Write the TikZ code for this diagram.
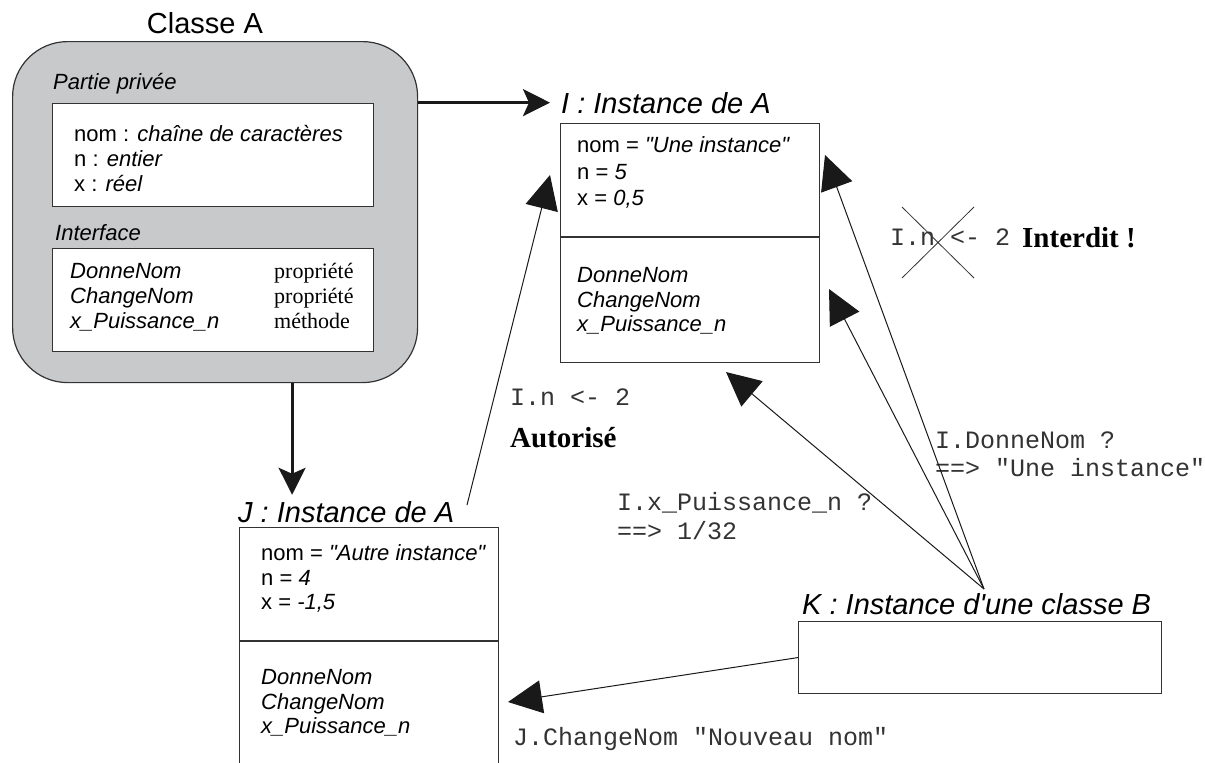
\documentclass[tikz,border=0pt]{standalone}
\usepackage{fontspec}
\setmainfont{Liberation Serif}
\setsansfont{Liberation Sans}[Ligatures=TeXOff]
\setmonofont{Liberation Mono}
\usetikzlibrary{arrows.meta}

\definecolor{classgray}{HTML}{C8C9CB}
\definecolor{edgegray}{HTML}{333333}

\tikzset{
  classbox/.style={draw=edgegray,line width=1.2pt,fill=classgray,rounded corners=55pt,
    anchor=north west,inner sep=0pt,minimum width=405pt,minimum height=341pt},
  membox/.style={draw=edgegray,line width=1.1pt,fill=white,anchor=north west,inner sep=0pt},
  objname/.style={anchor=base west,inner sep=0pt,font=\sffamily\itshape\fontsize{29}{29}\selectfont},
  txt/.style={anchor=base west,inner sep=0pt,font=\sffamily\fontsize{22}{22}\selectfont},
  kind/.style={anchor=base west,inner sep=0pt,font=\rmfamily\fontsize{22}{22}\selectfont},
  code/.style={anchor=base west,inner sep=0pt,text=black!80,font=\ttfamily\fontsize{25}{25}\selectfont},
  verdict/.style={anchor=base west,inner sep=0pt,font=\rmfamily\bfseries\fontsize{29}{29}\selectfont},
  bigarrow/.style={draw=black!90,line width=3pt,-{Stealth[length=27pt,width=27pt,inset=6pt]}},
  call/.style={draw=black!90,line width=1pt,-{Triangle[length=34pt,width=33pt]}}
}

\begin{document}
\begin{tikzpicture}[x=1pt,y=-1pt]
\useasboundingbox (0,0) rectangle (1205,763);

% classe A
\node[classbox] (classA) at (12,41) {};
\node[anchor=base,inner sep=0pt,font=\sffamily\fontsize{29}{29}\selectfont] (classAname) at (205,33) {Classe A};
\node[txt,font=\sffamily\itshape\fontsize{22}{22}\selectfont] (privLbl) at (53,89) {Partie privée};
\node[membox,minimum width=321pt,minimum height=103pt] (privBox) at (52,103) {};
\node[txt] (aNom) at (74,141) {nom : \textit{chaîne de caractères}};
\node[txt] (aN) at (74,166) {n : \textit{entier}};
\node[txt] (aX) at (74,191) {x : \textit{réel}};
\node[txt,font=\sffamily\itshape\fontsize{22}{22}\selectfont] (ifLbl) at (55,240) {Interface};
\node[membox,minimum width=321pt,minimum height=103pt] (ifBox) at (52,248) {};
\node[txt] (aM1) at (70,278) {\textit{DonneNom}};
\node[txt] (aM2) at (70,303) {\textit{ChangeNom}};
\node[txt] (aM3) at (70,328) {\textit{x\_Puissance\_n}};
\node[kind] (aK1) at (274,278) {propriété};
\node[kind] (aK2) at (274,303) {propriété};
\node[kind] (aK3) at (274,328) {méthode};

% instance I
\node[objname] (Iname) at (561,113) {I : Instance de A};
\node[membox,minimum width=259pt,minimum height=239pt] (Ibox) at (560,123) {};
\draw[edgegray,line width=1.1pt] (Ibox.west |- 0,237) -- (Ibox.east |- 0,237);
\node[txt] (iNom) at (577,152) {nom = \textit{"Une instance"}};
\node[txt] (iN) at (577,179) {n = \textit{5}};
\node[txt] (iX) at (577,205) {x = \textit{0,5}};
\node[txt] (iM1) at (577,282) {\textit{DonneNom}};
\node[txt] (iM2) at (577,307) {\textit{ChangeNom}};
\node[txt] (iM3) at (577,331) {\textit{x\_Puissance\_n}};

% instance J
\node[objname] (Jname) at (238,522) {J : Instance de A};
\node[membox,minimum width=259pt,minimum height=250pt] (Jbox) at (239,527) {};
\draw[edgegray,line width=1.1pt] (Jbox.west |- 0,641) -- (Jbox.east |- 0,641);
\node[txt] (jNom) at (261,560) {nom = \textit{"Autre instance"}};
\node[txt] (jN) at (261,585) {n = \textit{4}};
\node[txt] (jX) at (261,609) {x = \textit{-1,5}};
\node[txt] (jM1) at (261,684) {\textit{DonneNom}};
\node[txt] (jM2) at (261,709) {\textit{ChangeNom}};
\node[txt] (jM3) at (261,733) {\textit{x\_Puissance\_n}};

% instance K
\node[objname] (Kname) at (802,614) {K : Instance d\textquotesingle une classe B};
\node[membox,minimum width=363pt,minimum height=72pt] (Kbox) at (798,621) {};

% messages
\node[code] (setOk) at (510,405) {I.n <- 2};
\node[verdict] (ok) at (510,447) {Autorisé};
\node[code] (setNo) at (890,245) {I.n <- 2};
\node[verdict] (no) at (1022,247) {Interdit !};
\draw[edgegray,line width=0.8pt] (902,207) -- (974,278) (974,207) -- (902,278);
\node[code] (askPow) at (617,510) {I.x\_Puissance\_n ?};
\node[code] (ansPow) at (617,539) {==> 1/32};
\node[code] (askNom) at (935,448) {I.DonneNom ?};
\node[code] (ansNom) at (935,476) {==> "Une instance"};
\node[code] (chgNom) at (513,745) {J.ChangeNom "Nouveau nom"};

% liens
\coordinate (jOut) at (467,505);
\coordinate (kOut) at (984,589);
\coordinate (tipJI) at (550,175);
\coordinate (tipKa) at (825,155);
\coordinate (tipKb) at (829,289);
\coordinate (tipKc) at (726,372);
\coordinate (tipKJ) at (508,702);

\draw[bigarrow,shorten >=11pt] (classA.east |- Iname.west) -- (Iname.west);
\draw[bigarrow,shorten >=6pt] ([xshift=77pt]classA.south) -- ([xshift=77pt]classA.south |- Jname.north);
\draw[call] (jOut) -- (tipJI);
\draw[call] (kOut) -- (tipKa);
\draw[call] (kOut) -- (tipKb);
\draw[call] (kOut) -- (tipKc);
\draw[call] (Kbox.west) -- (tipKJ);
\end{tikzpicture}
\end{document}
